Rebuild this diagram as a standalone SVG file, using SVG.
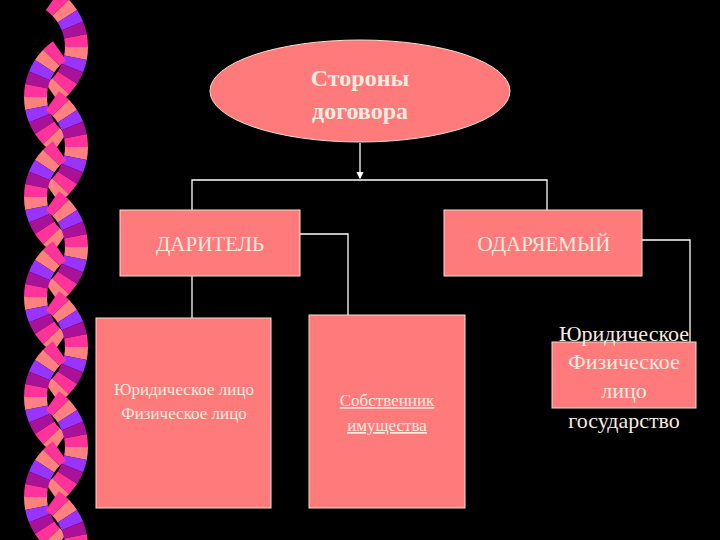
<svg xmlns="http://www.w3.org/2000/svg" xmlns:xlink="http://www.w3.org/1999/xlink" width="720" height="540" viewBox="0 0 720 540">
<style>
.box{fill:#ff7a7a;stroke:#f0e0d0;stroke-width:1}
.t{font-family:"Liberation Serif",serif;fill:#f5ece0;text-anchor:middle}
.c{fill:none;stroke:#ffffff;stroke-width:1.3}
</style>
<defs>
<path id="w" d="M44.79,-4.31 L67.69,-6.52 A68,68 0 0 1 67.69,6.52 L44.79,4.31 A45,45 0 0 0 44.79,-4.31Z"/>
<g id="arc">
<use href="#w" fill="#ff3399" transform="rotate(-49.5)"/>
<use href="#w" fill="#ff8080" transform="rotate(-38.5)"/>
<use href="#w" fill="#9933ff" transform="rotate(-27.5)"/>
<use href="#w" fill="#aa1199" transform="rotate(-16.5)"/>
<use href="#w" fill="#ff3399" transform="rotate(-5.5)"/>
<use href="#w" fill="#ff8080" transform="rotate(5.5)"/>
<use href="#w" fill="#9933ff" transform="rotate(16.5)"/>
<use href="#w" fill="#aa1199" transform="rotate(27.5)"/>
<use href="#w" fill="#ff3399" transform="rotate(38.5)"/>
<use href="#w" fill="#ff8080" transform="rotate(49.5)"/>
</g>
<g id="pair">
<use href="#arc" transform="translate(20,47)"/>
<use href="#arc" transform="translate(92,97) scale(-1,1)"/>
</g>
<marker id="ar" markerWidth="6" markerHeight="6" refX="5" refY="3" orient="auto"><path d="M0,0 L6,3 L0,6Z" fill="#fff"/></marker>
</defs>
<rect width="720" height="540" fill="#000"/>
<g id="decor">
<use href="#pair"/>
<use href="#pair" transform="translate(0,100)"/>
<use href="#pair" transform="translate(0,200)"/>
<use href="#pair" transform="translate(0,300)"/>
<use href="#pair" transform="translate(0,400)"/>
<use href="#pair" transform="translate(0,500)"/>
</g>
<g id="connectors">
<path class="c" d="M360,143 V178" marker-end="url(#ar)"/>
<path class="c" d="M192,210 V180 H547 V210"/>
<path class="c" d="M300,234 H348 V315"/>
<path class="c" d="M192,276 V318"/>
<path class="c" d="M642,240 H690 V342"/>
</g>
<g id="root">
<ellipse cx="360" cy="91" rx="150" ry="51" fill="#ff7a7a" stroke="#f0e0d0"/>
<text class="t" x="360" y="86" font-size="24" font-weight="bold" fill="#f0e0c0">Стороны</text>
<text class="t" x="360" y="119" font-size="24" font-weight="bold">договора</text>
</g>
<g id="donor">
<rect class="box" x="120" y="210" width="180" height="66"/>
<text class="t" x="210" y="251" font-size="21">ДАРИТЕЛЬ</text>
</g>
<g id="donee">
<rect class="box" x="444" y="210" width="198" height="66"/>
<text class="t" x="544" y="251" font-size="21">ОДАРЯЕМЫЙ</text>
</g>
<g id="donor-kinds">
<rect class="box" x="96" y="318" width="175" height="190"/>
<text class="t" x="184" y="395" font-size="17">Юридическое лицо</text>
<text class="t" x="184" y="419" font-size="17">Физическое лицо</text>
</g>
<g id="owner">
<rect class="box" x="309" y="315" width="156" height="193"/>
<text class="t" x="387" y="406" font-size="17" text-decoration="underline">Собственник</text>
<text class="t" x="387" y="431" font-size="17" text-decoration="underline">имущества</text>
</g>
<g id="donee-kinds">
<rect class="box" x="552" y="342" width="144" height="66"/>
<text class="t" x="624" y="341" font-size="22" fill="#fff">Юридическое</text>
<text class="t" x="624" y="369" font-size="22">Физическое</text>
<text class="t" x="624" y="398" font-size="22">лицо</text>
<text class="t" x="624" y="428" font-size="22" fill="#fff">государство</text>
</g>
</svg>
